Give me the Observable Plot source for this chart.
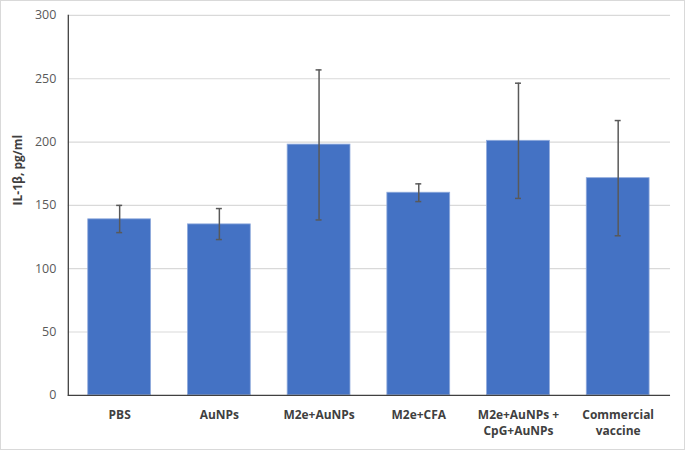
<!DOCTYPE html>
<html><head><meta charset="utf-8">
<script src="https://cdn.jsdelivr.net/npm/d3@7"></script>
<script src="https://cdn.jsdelivr.net/npm/@observablehq/plot@0.6"></script>
<style>
body{margin:0;background:#fff;}
#wrap{width:683px;height:448px;border:1px solid #d9d9d9;position:relative;overflow:hidden;}
#wrap svg{position:absolute;left:-1px;top:-1px;}
</style>
</head><body><div id="wrap"></div>
<script>
const categories = ["PBS", "AuNPs", "M2e+AuNPs", "M2e+CFA", "M2e+AuNPs +\nCpG+AuNPs", "Commercial\nvaccine"];
const means = [139, 135, 198, 160, 201, 171.5];
const errLow = [128.5, 123, 138.5, 153, 155.5, 126];
const errHigh = [150, 147.5, 257, 167, 246.5, 217];
const yTicks = [0, 50, 100, 150, 200, 250, 300];

const data = categories.map((c, i) => ({cat: c, v: means[i], lo: errLow[i], hi: errHigh[i]}));
const font = "Open Sans, Liberation Sans, sans-serif";

const chart = Plot.plot({
  width: 685, height: 450,
  marginLeft: 68, marginRight: 13, marginTop: 15, marginBottom: 54,
  style: {fontFamily: font, background: "transparent"},
  x: {domain: categories, paddingInner: 0.366, paddingOuter: 0.18, label: null},
  y: {domain: [0, 300], ticks: yTicks, label: null},
  marks: [
    Plot.gridY(yTicks.filter(t => t > 0), {stroke: "#d9d9d9", strokeOpacity: 1, strokeWidth: 1.2}),
    Plot.barY(data, {x: "cat", y: "v", fill: "#4472c4", stroke: "#8faadc", strokeWidth: 0.8}),
    Plot.ruleX(data, {x: "cat", y1: "lo", y2: "hi", stroke: "#595959", strokeWidth: 1.5}),
    Plot.tickY(data, {x: "cat", y: "lo", stroke: "#595959", strokeWidth: 1.5, insetLeft: 28.5, insetRight: 28.5}),
    Plot.tickY(data, {x: "cat", y: "hi", stroke: "#595959", strokeWidth: 1.5, insetLeft: 28.5, insetRight: 28.5}),
    Plot.frame({anchor: "left", stroke: "#404040", strokeWidth: 1.3}),
    Plot.ruleY([0], {stroke: "#404040", strokeWidth: 1.3}),
    Plot.axisY({ticks: yTicks, tickSize: 0, tickPadding: 12, fontSize: 12.5, color: "#595959", label: null}),
    Plot.axisX({tickSize: 0, tickPadding: 13, fontSize: 12, fontWeight: "bold", color: "#404040", label: null, lineHeight: 1.3}),
    Plot.text(["IL-1β, pg/ml"], {frameAnchor: "left", dx: -50, rotate: -90, fontSize: 12, fontWeight: "bold", fill: "#404040"})
  ]
});
document.getElementById("wrap").appendChild(chart);
</script>
</body></html>
